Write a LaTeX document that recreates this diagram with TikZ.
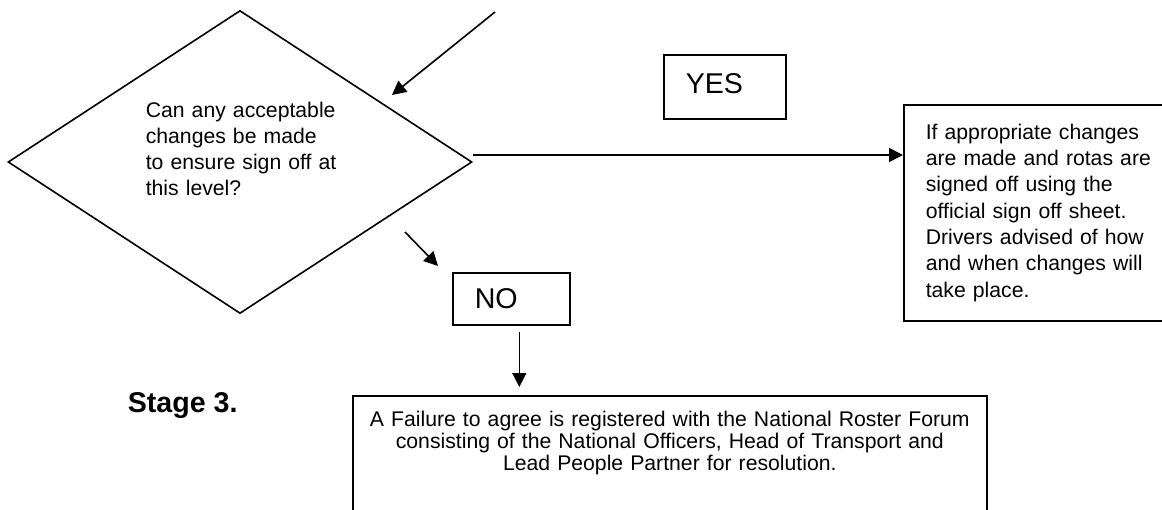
\documentclass[tikz,border=0pt]{standalone}
\usepackage{fontspec}
\setmainfont{Liberation Sans}
\usetikzlibrary{calc, positioning}
\usetikzlibrary{shapes.geometric, arrows.meta}

\begin{document}
\begin{tikzpicture}[x=0.5pt, y=-0.5pt, line width=0.8pt,
        arr/.style={-{Triangle[length=7pt, width=7pt]}},
        body/.style={font=\fontsize{10.6}{13}\selectfont},
        answer/.style={draw, align=left, inner xsep=11pt, inner ysep=0pt,
            font=\fontsize{14.3}{17}\selectfont}]
            \useasboundingbox (0,0) rectangle (1162,509);

            \node[draw, diamond, minimum width=232pt, minimum height=151.5pt, inner sep=0pt] (ask) at (240,162) {};
            \node[body, anchor=base west, text width=100pt, align=left, inner sep=0pt] (asktext) at (145,117)
                {Can any acceptable\\ changes be made\\ to ensure sign off at\\ this level?};

            \node[answer, anchor=north west, text width=39pt, minimum height=32pt, text depth=3.5pt] (yes) at (663,54) {YES};
            \node[answer, anchor=north west, text width=36.5pt, minimum height=26pt] (no) at (452,272) {NO};

            \node[draw, body, font=\fontsize{10.6}{13.15}\selectfont, anchor=north west, text width=135pt, inner xsep=11pt,
                minimum height=108pt, align=left] (act) at (903,104)
                {If appropriate changes\\ are made and rotas are\\ signed off using the\\ official sign off sheet.\\
                 Drivers advised of how\\ and when changes will\\ take place.};

            \node[draw, anchor=north west, minimum width=317pt, minimum height=80pt] (fail) at (352,395) {};
            \node[font=\fontsize{10.6}{11.2}\selectfont, text width=310pt, align=center, anchor=base, inner sep=0pt] (failtext)
                at ($(fail.north)+(0,31)$)
                {A Failure to agree is registered with the National Roster Forum\\
                 consisting of the National Officers, Head of Transport and\\
                 Lead People Partner for resolution.};

            \node[font=\fontsize{14.3}{17}\selectfont\bfseries, anchor=base west, inner sep=0pt] (stage) at (127,412) {Stage 3.};

            \coordinate (intop) at (495,12);
            \coordinate (inend) at (392,95);
            \coordinate (nostart) at (405,232);
            \coordinate (noend) at (438,266);

            \draw[arr] (intop) -- (inend);
            \draw[arr] ([yshift=3.5pt]ask.east) -- ([yshift=3.5pt]ask.east -| act.west);
            \draw[arr] (nostart) -- (noend);
            \draw[arr, shorten <=3pt, shorten >=4pt] ([xshift=4pt]no.south) -- ([xshift=4pt]no.south |- fail.north);
        \end{tikzpicture}
\end{document}
